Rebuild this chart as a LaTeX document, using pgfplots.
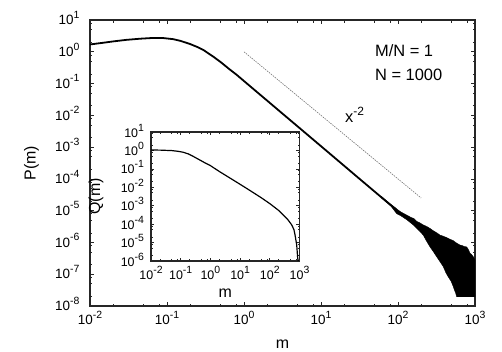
\documentclass[border=0pt]{standalone}
\usepackage{pgfplots}
\pgfplotsset{compat=1.18}
\usepackage{fontspec}
\setmainfont{Liberation Sans}

% power-of-ten tick label in the text font
\newcommand{\tp}[1]{10\raisebox{0.48em}{\fontsize{10.5}{10.5}\selectfont #1}}

\begin{document}
\begin{tikzpicture}
\useasboundingbox (-90bp,-46bp) rectangle (412bp,306bp);

% main panel: P(m)
\begin{axis}[
  xmode=log, ymode=log,
  scale only axis,
  at={(0,0)}, anchor=south west,
  width=385bp, height=286bp,
  xmin=0.01, xmax=1000, ymin=1e-8, ymax=10,
  tick align=inside,
  major tick length=4bp, minor tick length=2.5bp,
  axis line style={line width=1.2pt, black!85},
  every tick/.style={black!85, line width=0.7pt},
  xtick={0.01,0.1,1,10,100,1000},
  xticklabels={\tp{-2},\tp{-1},\tp{0},\tp{1},\tp{2},\tp{3}},
  minor xtick={0.02,0.05,0.08,0.2,0.5,0.8,2,5,8,20,50,80,200,500,800},
  ytick={1e-8,1e-7,1e-6,1e-5,1e-4,1e-3,1e-2,1e-1,1,10},
  yticklabels={\tp{-8},\tp{-7},\tp{-6},\tp{-5},\tp{-4},\tp{-3},\tp{-2},\tp{-1},\tp{0},\tp{1}},
  minor ytick={2e-8,5e-8,8e-8,2e-7,5e-7,8e-7,2e-6,5e-6,8e-6,2e-5,5e-5,8e-5,2e-4,5e-4,8e-4,
               0.002,0.005,0.008,0.02,0.05,0.08,0.2,0.5,0.8,2,5,8},
  tick label style={font=\fontsize{13.5}{13.5}\selectfont},
  yticklabel style={xshift=-7bp, yshift=2bp},
  xticklabel style={yshift=-1.5bp},
  xlabel={m}, ylabel={P(m)},
  label style={font=\fontsize{16}{16}\selectfont},
  xlabel style={at={(axis description cs:0.5,-0.15)}, anchor=base},
  ylabel style={at={(axis description cs:-0.152,0.5)}, anchor=center},
]
% smooth part
\addplot[black, line width=1.8pt] coordinates {
  (0.01,1.70) (0.015,1.93) (0.02,2.12) (0.03,2.38) (0.045,2.58) (0.065,2.72)
  (0.09,2.70) (0.12,2.50) (0.15,2.20) (0.2,1.75) (0.25,1.40) (0.3,1.12)
  (0.4,0.70) (0.5,0.47) (0.65,0.28) (0.8,0.19) (1,0.12) (1.5,0.0522)
  (2,0.029) (3,0.0126) (5,4.43e-3) (10,1.07e-3) (20,2.58e-4) (30,1.12e-4)
  (50,3.94e-5) (70,1.98e-5) (100,9.5e-6)
};
% noisy tail, upper envelope then lower envelope
\addplot[fill=black, draw=black, line width=0.4pt] coordinates {
  (60,2.9e-5) (70,2.1e-5) (80,1.62e-5) (90,1.3e-5) (100,1.05e-5) (110,9.0e-6)
  (120,8.0e-6) (135,6.9e-6) (150,6.0e-6) (160,5.7e-6) (175,4.6e-6) (190,4.2e-6)
  (213,3.55e-6) (235,3.2e-6) (261,2.75e-6) (290,2.3e-6) (320,2.0e-6) (351,1.7e-6)
  (380,1.6e-6) (420,1.45e-6) (473,1.26e-6) (520,1.15e-6) (560,1.0e-6) (600,9.0e-7)
  (638,8.3e-7) (680,8.0e-7) (720,7.5e-7) (780,7.2e-7) (820,6.0e-7) (861,4.6e-7)
  (900,4.2e-7) (951,3.55e-7) (1000,2.8e-7)
  (1000,1.95e-8) (578,1.95e-8) (560,2.6e-8) (540,3.2e-8) (522,4.1e-8) (490,6.0e-8)
  (449,8.3e-8) (420,1.1e-7) (387,1.74e-7) (350,2.5e-7) (318,3.55e-7) (290,5.0e-7)
  (261,7.2e-7) (235,1.1e-6) (213,1.7e-6) (190,2.3e-6) (158,3.55e-6) (130,5.2e-6)
  (110,6.8e-6) (96,8.1e-6) (80,1.45e-5) (60,2.6e-5)
};
% x^-2 guide
\addplot[black!55, line width=0.6pt, dash pattern=on 1.5pt off 1pt] coordinates {(1,1) (200,2.5e-5)};
\node[anchor=base west, inner sep=0pt, font=\fontsize{16.5}{16.5}\selectfont] at (rel axis cs:0.662,0.640) {x\raisebox{0.45em}{\fontsize{12}{12}\selectfont -2}};
\node[anchor=base west, inner sep=0pt, font=\fontsize{16.5}{16.5}\selectfont] at (rel axis cs:0.740,0.872) {M/N = 1};
\node[anchor=base west, inner sep=0pt, font=\fontsize{16.5}{16.5}\selectfont] at (rel axis cs:0.740,0.788) {N = 1000};
\end{axis}

% inset: Q(m)
\begin{axis}[
  xmode=log, ymode=log,
  scale only axis,
  at={(61bp,45bp)}, anchor=south west,
  width=148.5bp, height=129bp,
  axis background/.style={fill=white},
  xmin=0.01, xmax=1000, ymin=1e-6, ymax=10,
  tick align=inside,
  major tick length=3.5bp, minor tick length=2bp,
  axis line style={line width=1.2pt, black!85},
  every tick/.style={black!85, line width=0.7pt},
  xtick={0.01,0.1,1,10,100,1000},
  xticklabels={\tp{-2},\tp{-1},\tp{0},\tp{1},\tp{2},\tp{3}},
  minor xtick={0.02,0.05,0.08,0.2,0.5,0.8,2,5,8,20,50,80,200,500,800},
  ytick={1e-6,1e-5,1e-4,1e-3,1e-2,1e-1,1,10},
  yticklabels={\tp{-6},\tp{-5},\tp{-4},\tp{-3},\tp{-2},\tp{-1},\tp{0},\tp{1}},
  minor ytick={2e-6,5e-6,8e-6,2e-5,5e-5,8e-5,2e-4,5e-4,8e-4,
               0.002,0.005,0.008,0.02,0.05,0.08,0.2,0.5,0.8,2,5,8},
  tick label style={font=\fontsize{12.5}{12.5}\selectfont},
  yticklabel style={xshift=-3.5bp, yshift=1.5bp},
  xticklabel style={yshift=-2bp},
  xlabel={m}, ylabel={Q(m)},
  label style={font=\fontsize{16}{16}\selectfont},
  xlabel style={at={(axis description cs:0.5,-0.281)}, anchor=base},
  ylabel style={at={(axis description cs:-0.37,0.5)}, anchor=center},
]
\addplot[black, line width=1.2pt] coordinates {
  (0.01,1.05) (0.02,1.04) (0.05,0.98) (0.08,0.90) (0.12,0.80) (0.18,0.65)
  (0.25,0.50) (0.35,0.37) (0.5,0.27) (0.7,0.20) (1,0.15) (2,0.072) (5,0.029)
  (10,0.0145) (20,0.0072) (50,0.0028) (100,0.0013) (200,5.5e-4) (282,3.2e-4)
  (400,1.8e-4) (550,9.0e-5) (650,5.0e-5) (708,2.6e-5) (805,7.4e-6)
  (870,1.4e-6) (910,1.0e-6)
};
\end{axis}
\end{tikzpicture}
\end{document}
